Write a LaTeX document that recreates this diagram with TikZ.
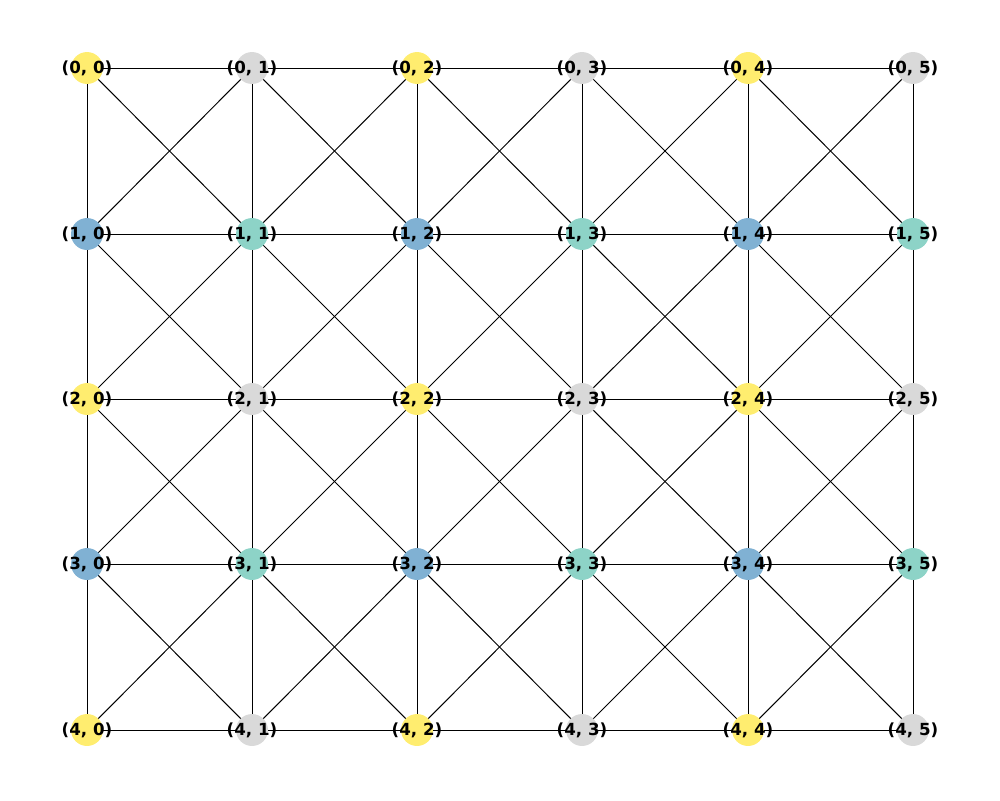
\documentclass[tikz,border=0pt]{standalone}
\usepackage{fontspec}
\setmainfont{DejaVu Sans}
\usetikzlibrary{backgrounds}
\definecolor{cy}{HTML}{FFED6F}
\definecolor{cg}{HTML}{D9D9D9}
\definecolor{cb}{HTML}{80B1D3}
\definecolor{ct}{HTML}{8DD3C7}
\tikzset{
  vert/.style={circle,minimum size=23pt,inner sep=0pt,draw=none,fill=#1},
  lab/.style={font=\bfseries\fontsize{12}{14}\selectfont,text=black},
  edge/.style={draw=black,line width=0.72pt}
}
\begin{document}
\begin{tikzpicture}[x=0.72pt,y=-0.72pt]
\useasboundingbox (0,0) rectangle (1000,800);
\def\xs{{87,252,417,582,748,913}}
\def\ys{{68,234,399,564,730}}
\foreach \r in {0,...,4}{
  \foreach \c in {0,...,5}{
    \pgfmathsetmacro{\px}{\xs[\c]}
    \pgfmathsetmacro{\py}{\ys[\r]}
    \pgfmathtruncatemacro{\re}{mod(\r,2)}
    \pgfmathtruncatemacro{\ce}{mod(\c,2)}
    \ifnum\re=0
      \ifnum\ce=0 \def\col{cy}\else\def\col{cg}\fi
    \else
      \ifnum\ce=0 \def\col{cb}\else\def\col{ct}\fi
    \fi
    \node[vert=\col, lab] (v-\r-\c) at (\px,\py) {\makebox[0pt]{(\r, \c)}};
  }
}
\begin{pgfonlayer}{background}
\foreach \r in {0,...,4}{
  \foreach \c in {0,...,5}{
    \pgfmathtruncatemacro{\rn}{\r+1}
    \pgfmathtruncatemacro{\cn}{\c+1}
    \pgfmathtruncatemacro{\cp}{\c-1}
    \ifnum\c<5 \draw[edge] (v-\r-\c.center) -- (v-\r-\cn.center); \fi
    \ifnum\r<4 \draw[edge] (v-\r-\c.center) -- (v-\rn-\c.center); \fi
    \ifnum\r<4 \ifnum\c<5 \draw[edge] (v-\r-\c.center) -- (v-\rn-\cn.center); \fi\fi
    \ifnum\r<4 \ifnum\c>0 \draw[edge] (v-\r-\c.center) -- (v-\rn-\cp.center); \fi\fi
  }
}
\end{pgfonlayer}
\end{tikzpicture}
\end{document}
